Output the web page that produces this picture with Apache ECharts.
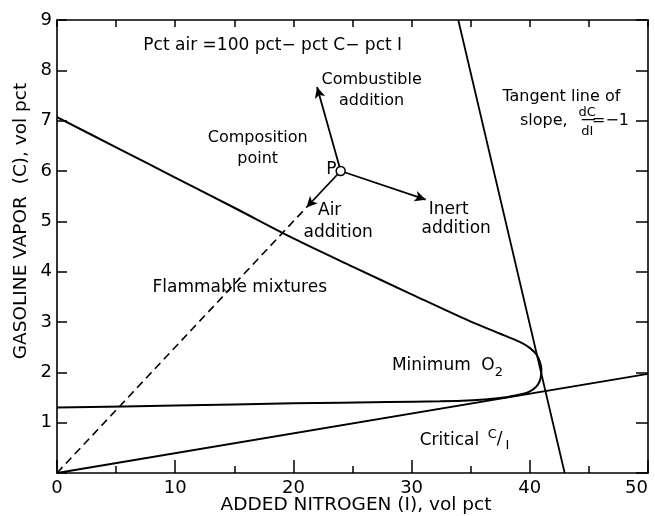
<!DOCTYPE html>
<html><head><meta charset="utf-8">
<script src="https://cdn.jsdelivr.net/npm/echarts@6/dist/echarts.min.js"></script>
<style>html,body{margin:0;padding:0;background:#fff}#c{width:655px;height:516px}</style>
</head><body><div id="c"></div>
<script>
const FONT = 'DejaVu Sans';
// Flammability boundary: upper limit branch -> nose (minimum O2) -> lower limit branch
const boundaryI = [0, 5, 10, 15, 20, 25, 30, 34.92, 37.45, 39.15, 39.99, 40.56, 40.84, 40.98, 40.92, 40.69, 40.27, 39.71, 38.87, 38.02, 36.61, 35.19, 32.4, 28, 20, 10, 0];
const boundaryC = [7.07, 6.47, 5.87, 5.27, 4.66, 4.10, 3.55, 3.016, 2.771, 2.604, 2.485, 2.354, 2.221, 2.056, 1.889, 1.757, 1.658, 1.590, 1.544, 1.505, 1.471, 1.447, 1.425, 1.41, 1.385, 1.34, 1.30];
// Critical C/I line
const criticalI = [0, 50];
const criticalC = [0, 1.97];
// Tangent line of slope dC/dI = -1
const tangentI = [33.95, 42.95];
const tangentC = [9, 0];
// Dashed air-addition line from origin
const airDashI = [0, 21.1];
const airDashC = [0, 5.275];
// Composition point P and arrow tips (combustible, inert, air)
const pointP = [24, 6];
const arrowTipI = [22.0, 31.2, 21.1];
const arrowTipC = [7.67, 5.43, 5.275];
// Axes
const xMin = 0, xMax = 50, xMajor = 10, xTopStep = 5;
const yMin = 0, yMax = 9, yStep = 1;
const xTitle = 'ADDED NITROGEN (I), vol pct';
const yTitle = 'GASOLINE VAPOR  (C), vol pct';
// Annotations (text, I, C, font size)
const noteText = ['Pct air =100 pct\u2212 pct C\u2212 pct I', 'Combustible\naddition', 'Composition\npoint', 'P', 'Air', 'addition', 'Inert', 'addition', 'Tangent line of', 'slope,', 'dC', 'dI', '=\u22121', 'Flammable mixtures', 'Minimum', 'O', '2', 'Critical', 'C', '/', 'I'];
const noteI = [18.25, 26.62, 16.98, 23.21, 23.07, 23.79, 33.14, 33.77, 42.67, 41.18, 44.86, 44.86, 46.83, 15.46, 31.67, 36.46, 37.39, 33.2, 36.82, 37.45, 38.1];
const noteC = [8.50, 7.60, 6.45, 6.03, 5.22, 4.77, 5.24, 4.86, 7.47, 6.99, 7.16, 6.78, 6.99, 3.69, 2.14, 2.14, 2.00, 0.65, 0.77, 0.66, 0.55];
const noteSize = [17, 16, 16, 17, 17, 17, 17, 17, 16, 16, 13, 13, 16, 17, 17, 17, 13, 17, 13, 17, 13];
// Fraction bar under dC (I range, C level)
const fracBarI = [44.4, 45.5];
const fracBarC = [7.02, 7.02];

const zip = (a, b) => a.map((v, k) => [v, b[k]]);
const black = '#000';
const axisText = { color: black, fontFamily: FONT, fontSize: 18 };

const chart = echarts.init(document.getElementById('c'), null, { renderer: 'canvas' });
chart.setOption({
  backgroundColor: '#fff',
  animation: false,
  grid: { left: 57, right: 7, top: 20, bottom: 43, containLabel: false, outerBoundsMode: 'none' },
  xAxis: [
    { type: 'value', position: 'bottom', min: xMin, max: xMax, interval: xMajor,
      axisLine: { show: true, onZero: false, lineStyle: { color: black, width: 1.6 } },
      axisTick: { show: true, inside: true, length: 13, lineStyle: { color: black, width: 1.5 } },
      minorTick: { show: true, splitNumber: 2, length: 7, lineStyle: { color: black, width: 1.5 } },
      axisLabel: Object.assign({ margin: 6, alignMinLabel: 'center', alignMaxLabel: 'right' }, axisText),
      splitLine: { show: false }, minorSplitLine: { show: false } },
    { type: 'value', position: 'top', min: xMin, max: xMax, interval: xTopStep,
      axisLine: { show: true, onZero: false, lineStyle: { color: black, width: 1.6 } },
      axisTick: { show: true, inside: true, length: 7, lineStyle: { color: black, width: 1.5 } },
      axisLabel: { show: false }, splitLine: { show: false } }
  ],
  yAxis: [
    { type: 'value', position: 'left', min: yMin, max: yMax, interval: yStep,
      axisLine: { show: true, onZero: false, lineStyle: { color: black, width: 1.6 } },
      axisTick: { show: true, inside: true, length: 10, lineStyle: { color: black, width: 1.5 } },
      axisLabel: Object.assign({ margin: 5, formatter: v => (v === 0 ? '' : String(v)) }, axisText),
      splitLine: { show: false } },
    { type: 'value', position: 'right', min: yMin, max: yMax, interval: yStep,
      axisLine: { show: true, onZero: false, lineStyle: { color: black, width: 1.6 } },
      axisTick: { show: true, inside: true, length: 12, lineStyle: { color: black, width: 1.5 } },
      axisLabel: { show: false }, splitLine: { show: false } }
  ],
  graphic: [
    { type: 'text', x: 356, y: 505, style: { text: xTitle, fill: black, fontFamily: FONT, fontSize: 18.5, align: 'center', verticalAlign: 'middle' } },
    { type: 'text', x: 21, y: 221, rotation: Math.PI / 2, style: { text: yTitle, fill: black, fontFamily: FONT, fontSize: 18.5, align: 'center', verticalAlign: 'middle' } }
  ],
  series: [
    { type: 'line', name: 'boundary', data: zip(boundaryI, boundaryC), smooth: 0.3, symbol: 'none',
      lineStyle: { color: black, width: 2 }, z: 3 },
    { type: 'line', name: 'critical', data: zip(criticalI, criticalC), symbol: 'none',
      lineStyle: { color: black, width: 1.8 }, z: 3 },
    { type: 'line', name: 'tangent', data: zip(tangentI, tangentC), symbol: 'none',
      lineStyle: { color: black, width: 1.8 }, z: 3 },
    { type: 'line', name: 'fractionBar', data: zip(fracBarI, fracBarC), symbol: 'none',
      lineStyle: { color: black, width: 1.3 }, z: 3 },
    { type: 'line', name: 'airDash', data: zip(airDashI, airDashC), symbol: 'none',
      lineStyle: { color: black, width: 1.6, type: [8, 5] }, z: 3,
      markLine: {
        silent: true, symbol: ['none', 'arrow'], symbolSize: [8, 11], label: { show: false },
        lineStyle: { color: black, width: 1.8, type: 'solid' },
        data: arrowTipI.map((ti, k) => [{ coord: pointP }, { coord: [ti, arrowTipC[k]] }])
      } },
    { type: 'scatter', name: 'P', data: [pointP], symbol: 'circle', symbolSize: 9,
      itemStyle: { color: '#fff', borderColor: black, borderWidth: 1.5, opacity: 1 }, z: 6 },
    { type: 'scatter', name: 'notes', symbolSize: 0, z: 7, silent: true,
      itemStyle: { opacity: 1 },
      data: noteText.map((t, k) => ({
        value: [noteI[k], noteC[k]],
        label: { show: true, position: 'inside', formatter: t, color: black, opacity: 1, fontFamily: FONT,
          fontSize: noteSize[k], lineHeight: Math.round(noteSize[k] * 1.3), align: 'center', verticalAlign: 'middle',
          textBorderWidth: 0 }
      })) }
  ]
});
</script></body></html>
